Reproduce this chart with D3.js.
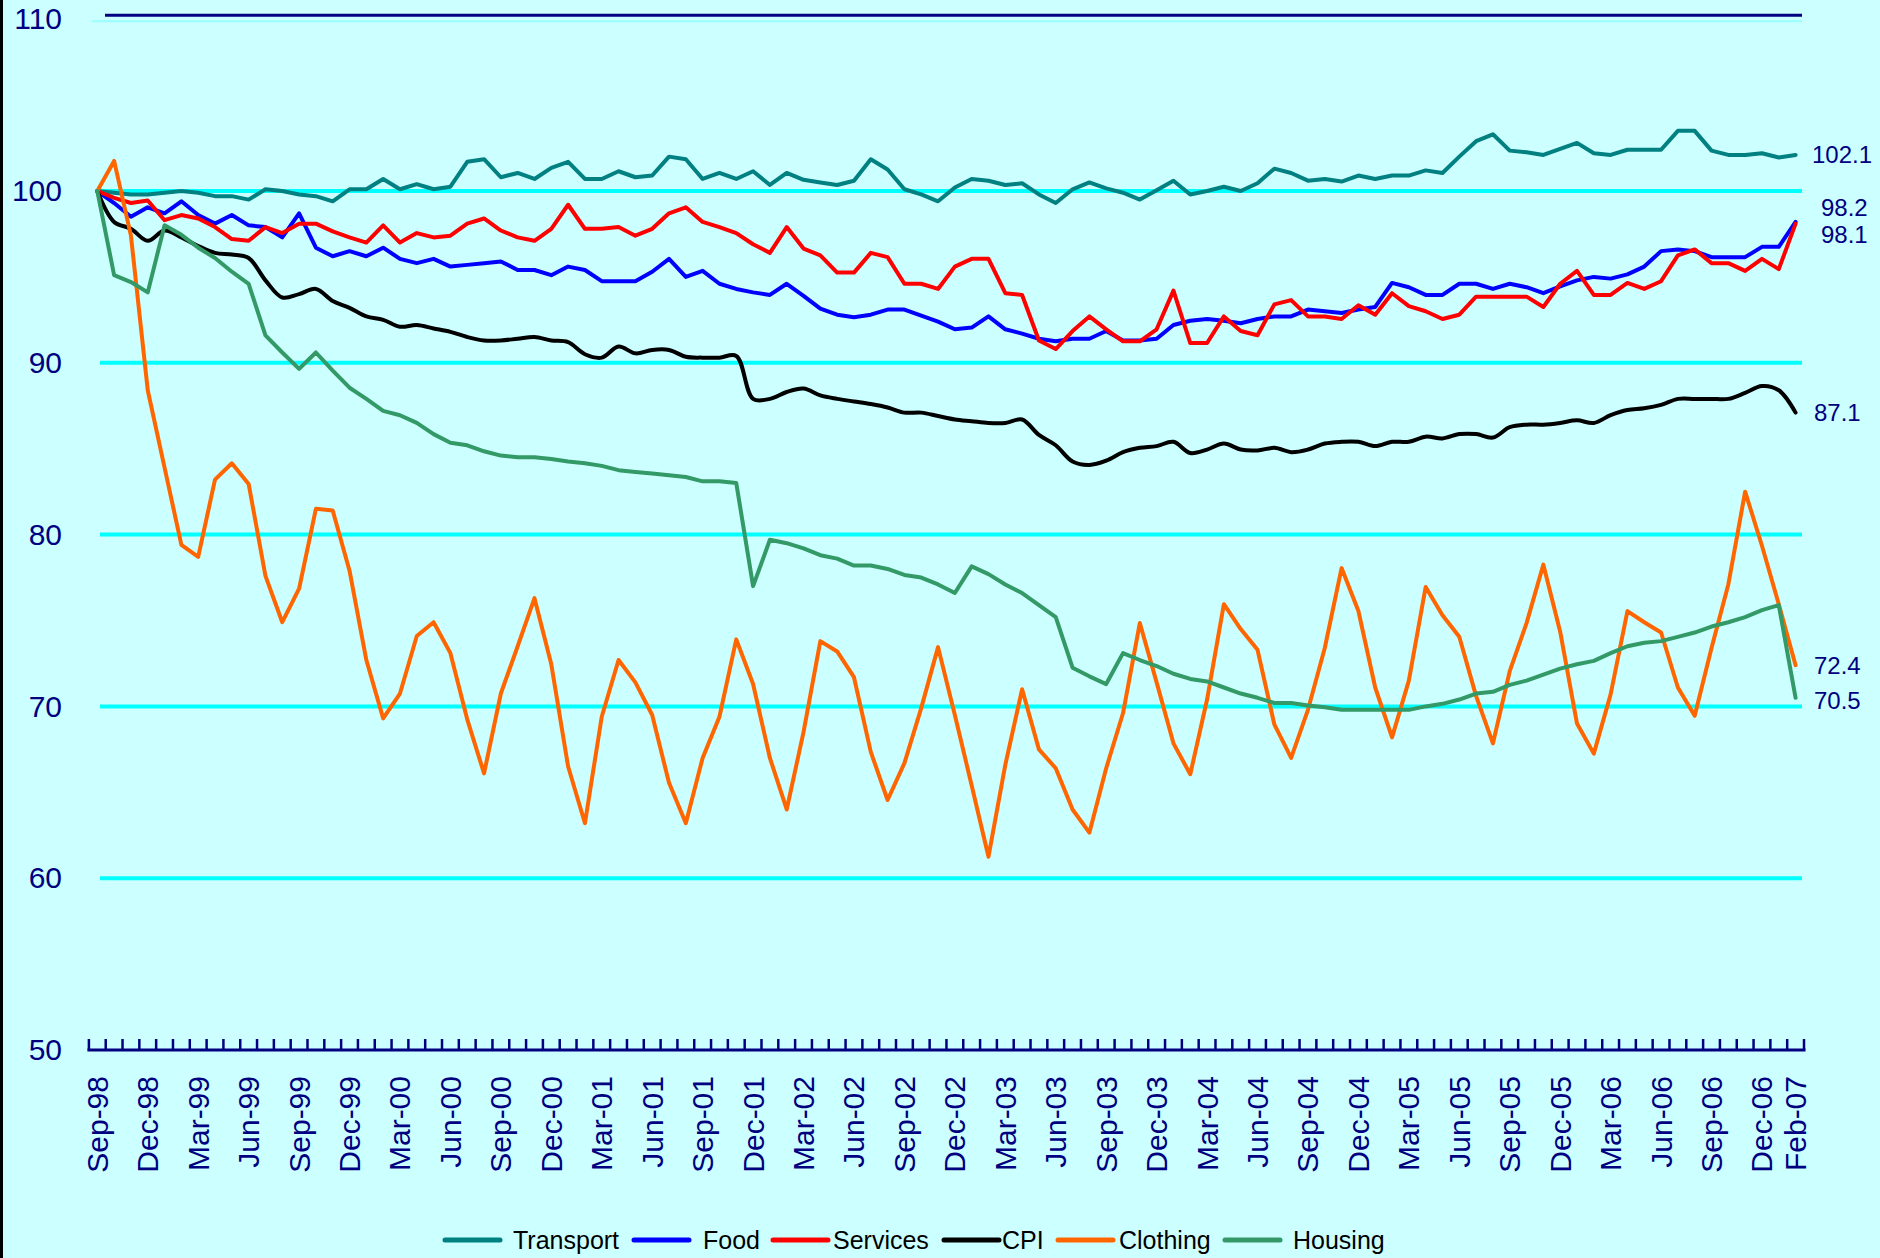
<!DOCTYPE html>
<html><head><meta charset="utf-8">
<script src="https://cdn.jsdelivr.net/npm/d3@7/dist/d3.min.js"></script>
<style>html,body{margin:0;padding:0;background:#CCFFFF;} svg{display:block;}</style>
</head><body>
<svg id="c" width="1880" height="1258"></svg>
<script>
// ---------- DATA ----------
const months = d3.timeMonth.range(new Date(1998, 8, 1), new Date(2007, 2, 1)).map(d3.timeFormat("%b-%y"));
const tickLabels = ["Sep-98","Dec-98","Mar-99","Jun-99","Sep-99","Dec-99","Mar-00","Jun-00","Sep-00","Dec-00",
  "Mar-01","Jun-01","Sep-01","Dec-01","Mar-02","Jun-02","Sep-02","Dec-02","Mar-03","Jun-03","Sep-03","Dec-03",
  "Mar-04","Jun-04","Sep-04","Dec-04","Mar-05","Jun-05","Sep-05","Dec-05","Mar-06","Jun-06","Sep-06","Dec-06","Feb-07"];
const yTicks = [50, 60, 70, 80, 90, 100, 110];
const gridValues = [60, 70, 80, 90, 100];

const transport = [100.0,99.9,99.8,99.8,99.9,100.0,99.9,99.7,99.7,99.5,100.1,100.0,99.8,99.7,99.4,100.1,100.1,100.7,100.1,100.4,
  100.1,100.25,101.7,101.85,100.8,101.05,100.7,101.35,101.7,100.7,100.7,101.15,100.8,100.9,102.0,101.85,100.7,101.05,100.7,101.15,
  100.35,101.05,100.65,100.5,100.35,100.6,101.85,101.25,100.1,99.8,99.4,100.2,100.7,100.6,100.35,100.45,99.8,99.3,100.1,100.5,
  100.15,99.9,99.5,100.05,100.6,99.8,100.0,100.25,100.0,100.45,101.3,101.05,100.6,100.7,100.55,100.9,100.7,100.9,100.9,101.2,
  101.05,102.0,102.9,103.3,102.35,102.25,102.1,102.45,102.8,102.2,102.1,102.4,102.4,102.4,103.5,103.5,102.35,102.1,102.1,102.2,
  101.95,102.1];
const food = [100,99.3,98.5,99.05,98.7,99.4,98.6,98.1,98.6,98.0,97.9,97.3,98.7,96.7,96.2,96.5,96.2,96.7,96.05,95.8,
  96.05,95.6,95.7,95.8,95.9,95.4,95.4,95.1,95.6,95.4,94.75,94.75,94.75,95.3,96.05,95.0,95.35,94.6,94.3,94.1,
  93.95,94.6,93.9,93.15,92.8,92.65,92.8,93.1,93.1,92.75,92.4,91.95,92.05,92.7,91.95,91.7,91.4,91.25,91.4,91.4,
  91.85,91.3,91.3,91.4,92.2,92.45,92.55,92.45,92.3,92.55,92.7,92.7,93.1,93.0,92.9,93.1,93.25,94.65,94.4,93.95,
  93.95,94.6,94.6,94.3,94.6,94.4,94.05,94.45,94.8,95.0,94.9,95.15,95.6,96.5,96.6,96.5,96.15,96.15,96.15,96.75,
  96.75,98.2];
const services = [100,99.6,99.3,99.45,98.3,98.6,98.4,97.9,97.2,97.1,97.9,97.55,98.1,98.1,97.65,97.3,97.0,98.0,97.0,97.55,
  97.3,97.4,98.1,98.4,97.7,97.3,97.1,97.8,99.2,97.8,97.8,97.9,97.4,97.8,98.7,99.05,98.2,97.9,97.55,96.9,
  96.4,97.9,96.65,96.25,95.25,95.25,96.4,96.15,94.6,94.6,94.3,95.6,96.05,96.05,94.05,93.95,91.3,90.8,91.85,92.7,
  91.95,91.25,91.25,91.95,94.2,91.15,91.15,92.7,91.85,91.6,93.4,93.65,92.7,92.7,92.55,93.35,92.8,94.05,93.3,93.0,
  92.55,92.8,93.85,93.85,93.85,93.85,93.25,94.6,95.35,93.95,93.95,94.65,94.3,94.75,96.25,96.6,95.8,95.8,95.35,96.05,
  95.45,98.1];
const cpi = [100,98.2,97.8,97.1,97.7,97.3,96.8,96.4,96.3,96.1,94.8,93.8,94.0,94.3,93.6,93.2,92.7,92.5,92.1,92.2,
  92.0,91.8,91.5,91.3,91.3,91.4,91.5,91.3,91.2,90.5,90.3,90.95,90.55,90.75,90.75,90.35,90.3,90.3,90.4,87.9,
  87.9,88.3,88.5,88.1,87.9,87.75,87.6,87.4,87.1,87.1,86.9,86.7,86.6,86.5,86.5,86.7,85.8,85.2,84.25,84.05,
  84.3,84.8,85.05,85.15,85.4,84.75,84.95,85.3,84.95,84.9,85.05,84.8,84.95,85.3,85.4,85.4,85.15,85.4,85.4,85.7,
  85.6,85.85,85.85,85.65,86.25,86.4,86.4,86.5,86.65,86.5,86.95,87.25,87.35,87.55,87.9,87.9,87.9,87.9,88.25,88.65,
  88.4,87.1];
const clothing = [100,101.75,97.4,88.4,83.9,79.4,78.7,83.2,84.15,82.95,77.6,74.9,76.85,81.5,81.4,77.9,72.7,69.3,70.75,74.1,
  74.9,73.1,69.25,66.1,70.75,73.5,76.3,72.45,66.5,63.2,69.4,72.7,71.4,69.5,65.55,63.2,67.0,69.4,73.9,71.3,
  67.0,64.0,68.5,73.8,73.2,71.7,67.35,64.55,66.7,69.9,73.45,69.5,65.4,61.25,66.6,71.0,67.5,66.4,64.0,62.65,
  66.4,69.6,74.85,71.4,67.85,66.05,70.4,75.95,74.5,73.3,68.95,67.0,69.8,73.4,78.05,75.55,71.1,68.2,71.5,76.95,
  75.3,74.05,70.6,67.85,72.05,74.85,78.25,74.35,69.0,67.25,70.7,75.55,74.9,74.3,71.1,69.45,73.4,77.1,82.5,79.35,
  75.95,72.4];
const housing = [100,95.1,94.7,94.1,98.0,97.45,96.7,96.1,95.3,94.6,91.6,90.6,89.65,90.6,89.55,88.55,87.9,87.2,86.95,86.5,
  85.85,85.35,85.2,84.85,84.6,84.5,84.5,84.4,84.25,84.15,84.0,83.75,83.65,83.55,83.45,83.35,83.1,83.1,83.0,77.0,
  79.7,79.5,79.2,78.8,78.6,78.2,78.2,78.0,77.65,77.5,77.1,76.6,78.15,77.7,77.1,76.6,75.9,75.2,72.25,71.75,
  71.3,73.1,72.7,72.35,71.9,71.6,71.45,71.1,70.75,70.5,70.2,70.2,70.05,69.95,69.8,69.8,69.8,69.8,69.8,70.0,
  70.15,70.4,70.75,70.85,71.25,71.5,71.85,72.2,72.45,72.65,73.1,73.5,73.7,73.8,74.05,74.3,74.65,74.9,75.2,75.6,
  75.9,70.5];

const seriesNames = ["Transport", "Food", "Services", "CPI", "Clothing", "Housing"];
const seriesValues = [transport, food, services, cpi, clothing, housing];
const seriesColors = ["#008080", "#0000FF", "#FF0000", "#000000", "#FF6600", "#339966"];

// ---------- LAYOUT ----------
const FONT = "'Liberation Sans', Arial, Helvetica, sans-serif";
const NAVY = "#000080";
const svg = d3.select("#c");

const x = d3.scaleBand().domain(months).range([88.9, 1804]).paddingInner(0).paddingOuter(0);
const cx = m => x(m) + x.bandwidth() / 2;
const y = d3.scaleLinear().domain([50, 110]).range([1050, 19.2]);

svg.append("rect").attr("width", 1880).attr("height", 1258).attr("fill", "#CCFFFF");
svg.append("rect").attr("x", 0).attr("y", 0).attr("width", 3).attr("height", 1258).attr("fill", "#000");

// gridlines
svg.append("g").selectAll("line").data(gridValues).join("line")
  .attr("x1", 100).attr("x2", 1802)
  .attr("y1", d => y(d)).attr("y2", d => y(d))
  .attr("stroke", "#00FFFF").attr("stroke-width", 4);
svg.append("line").attr("x1", 92).attr("x2", 1802).attr("y1", y(110) + 2).attr("y2", y(110) + 2)
  .attr("stroke", "#99FFFF").attr("stroke-width", 2);
svg.append("line").attr("x1", 105).attr("x2", 1802).attr("y1", y(110) - 4).attr("y2", y(110) - 4)
  .attr("stroke", NAVY).attr("stroke-width", 3);

// y axis
const yAxis = svg.append("g").attr("transform", "translate(68,0)")
  .call(d3.axisLeft(y).tickValues(yTicks).tickSize(0).tickPadding(6).tickFormat(d3.format("d")));
yAxis.select(".domain").remove();
yAxis.selectAll("text").attr("fill", NAVY).style("font-family", FONT).style("font-size", "30px");

// x axis line + ticks at category boundaries
const xr = x.range();
svg.append("line").attr("x1", xr[0] - 1.5).attr("x2", xr[1] + 1.5).attr("y1", 1050).attr("y2", 1050)
  .attr("stroke", NAVY).attr("stroke-width", 3);
const bounds = months.map(m => x(m)).concat([xr[1]]);
svg.append("g").selectAll("line").data(bounds).join("line")
  .attr("x1", d => d).attr("x2", d => d).attr("y1", 1050).attr("y2", 1039)
  .attr("stroke", NAVY).attr("stroke-width", 2.5);

// x labels
svg.append("g").selectAll("text").data(tickLabels).join("text")
  .attr("transform", d => `translate(${cx(d)},1076) rotate(-90)`)
  .attr("text-anchor", "end").attr("dy", "0.35em")
  .attr("fill", NAVY).style("font-family", FONT).style("font-size", "30px")
  .text(d => d);

// lines
const lineGen = d3.line().x((d, i) => cx(months[i])).y(d => y(d));
const smoothGen = d3.line().x((d, i) => cx(months[i])).y(d => y(d)).curve(d3.curveCatmullRom.alpha(0.5));
svg.append("g").selectAll("path").data(seriesValues).join("path")
  .attr("d", (d, i) => seriesNames[i] === "CPI" ? smoothGen(d) : lineGen(d))
  .attr("fill", "none")
  .attr("stroke", (d, i) => seriesColors[i])
  .attr("stroke-width", 4)
  .attr("stroke-linejoin", "round")
  .attr("stroke-linecap", "round");

// end labels
const endLabelLayout = [
  {s: 0, x: 1812, dy: 0},
  {s: 1, x: 1821, dy: -14},
  {s: 2, x: 1821, dy: 11},
  {s: 3, x: 1814, dy: 0},
  {s: 4, x: 1814, dy: 0},
  {s: 5, x: 1814, dy: 3}
];
svg.append("g").selectAll("text").data(endLabelLayout).join("text")
  .attr("x", d => d.x)
  .attr("y", d => y(seriesValues[d.s][seriesValues[d.s].length - 1]) + d.dy)
  .attr("dy", "0.35em")
  .attr("fill", NAVY).style("font-family", FONT).style("font-size", "24px")
  .text(d => d3.format(".1f")(seriesValues[d.s][seriesValues[d.s].length - 1]));

// legend
const legendLayout = [
  {lx: 445, tx: 513}, {lx: 634, tx: 703}, {lx: 773, tx: 833},
  {lx: 944, tx: 1002}, {lx: 1058, tx: 1119}, {lx: 1225, tx: 1293}
];
const lg = svg.append("g").selectAll("g").data(seriesNames).join("g");
lg.append("line")
  .attr("x1", (d, i) => legendLayout[i].lx).attr("x2", (d, i) => legendLayout[i].lx + 55)
  .attr("y1", 1240).attr("y2", 1240)
  .attr("stroke", (d, i) => seriesColors[i]).attr("stroke-width", 5).attr("stroke-linecap", "round");
lg.append("text")
  .attr("x", (d, i) => legendLayout[i].tx).attr("y", 1240).attr("dy", "0.35em")
  .attr("fill", "#000").style("font-family", FONT).style("font-size", "25px")
  .text(d => d);
</script>
</body></html>
